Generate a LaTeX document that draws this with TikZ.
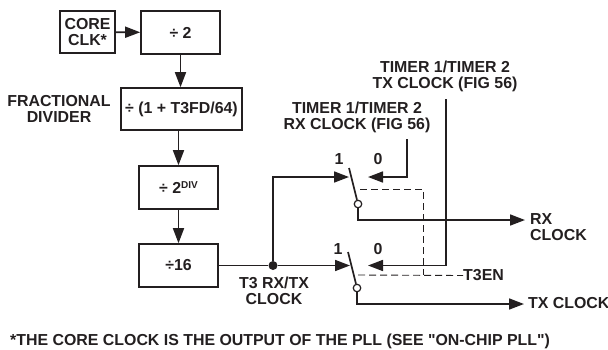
\documentclass[tikz,border=0pt]{standalone}
\usepackage{fontspec}
\newfontfamily\diagfont{Liberation Sans}
\usetikzlibrary{arrows.meta}
\definecolor{inkdark}{RGB}{35,31,32}

\begin{document}
\begin{tikzpicture}[
    x=1pt,y=-1pt,
    box/.style={draw=inkdark,line width=1.6pt,inner sep=0pt,align=center},
    lbl/.style={inner sep=0pt,align=center,text=inkdark,font=\diagfont\fontsize{15.9}{16}\selectfont\bfseries},
    wire/.style={draw=inkdark,line width=1.7pt},
    sig/.style={wire,-{Triangle[length=15pt,width=11pt]}},
    ctl/.style={draw=inkdark,line width=0.9pt,dash pattern=on 7pt off 4pt},
    pivot/.style={circle,draw=inkdark,fill=white,line width=1.2pt,minimum size=7.5pt,inner sep=0pt},
]
\useasboundingbox (0,0) rectangle (608,349);
% divider chain
\node[box,lbl,minimum width=55pt,minimum height=42pt] (coreclk) at (87.5,32) {\raisebox{-2pt}{CORE}\\\raisebox{-2pt}{CLK*}};
\node[box,lbl,minimum width=79pt,minimum height=43pt] (divtwo) at (180.5,32.5) {÷ 2};
\node[box,lbl,minimum width=121pt,minimum height=42pt] (fracdiv) at (181.5,109) {÷ (1 + T3FD/64)};
\node[box,lbl,minimum width=79pt,minimum height=43pt] (divpow) at (178.5,187.5) {÷ 2\raisebox{5pt}{\fontsize{10}{10}\selectfont DIV}};
\node[box,lbl,minimum width=79pt,minimum height=43pt] (divsixteen) at (178.5,265.5) {÷16};
\node[lbl] (fraclabel) at (59,108.5) {FRACTIONAL\\DIVIDER};
\draw[sig] (coreclk) -- (divtwo);
\draw[sig] (divtwo.south) -- (divtwo.south |- fracdiv.north);
\draw[sig] (fracdiv.south -| divpow) -- (divpow.north);
\draw[sig] (divpow) -- (divsixteen);
% switches
\coordinate (rxtop) at (349,168);
\coordinate (rxone) at (349,177);
\coordinate (rxzero) at (368,177);
\coordinate (rxsrc) at (407,139);
\coordinate (rxdash) at (360,189);
\coordinate (txtop) at (348,252);
\coordinate (txone) at (350,265.5);
\coordinate (txzero) at (368,265.5);
\coordinate (txsrc) at (446,99);
\coordinate (txdash) at (358,275);
\coordinate (dashcorner) at (423,189);
\coordinate (rxtip) at (525,220);
\coordinate (txtip) at (524,304);
\node[pivot] (rxpivot) at (358,204) {};
\node[pivot] (txpivot) at (357,288) {};
\node[circle,fill=inkdark,minimum size=9pt,inner sep=0pt] (tap) at (273,265.5) {};
\node[lbl,anchor=west] (enlabel) at (463,275.5) {T3EN};
\node[lbl,anchor=north west,align=left] (rxout) at (530,213) {RX\\CLOCK};
\node[lbl,anchor=west] (txout) at (528,303.5) {TX CLOCK};
\node[lbl] (rxlabel) at (357,117) {TIMER 1/TIMER 2\\RX CLOCK (FIG 56)};
\node[lbl] (txlabel) at (445,76.5) {TIMER 1/TIMER 2\\TX CLOCK (FIG 56)};
\node[lbl] (taplabel) at (274,290.5) {T3 RX/TX\\CLOCK};
\node[lbl] (rxonelabel) at (339,159) {1};
\node[lbl] (rxzerolabel) at (378,159) {0};
\node[lbl] (txonelabel) at (338,249) {1};
\node[lbl] (txzerolabel) at (378,249) {0};
\node[lbl,anchor=west] (note) at (10,341.5) {*THE CORE CLOCK IS THE OUTPUT OF THE PLL (SEE "ON-CHIP PLL")};
\draw[ctl] (rxdash) -- (dashcorner) -- (dashcorner |- txdash);
\draw[ctl] (txdash) -- (enlabel.west);
\draw[wire] (rxtop) -- (rxpivot);
\draw[wire] (txtop) -- (txpivot);
\draw[wire] (divsixteen.east) -- (tap);
\draw[sig] (tap) -- (txone);
\draw[sig] (tap) |- (rxone);
\draw[sig] (rxsrc) |- (rxzero);
\draw[sig] (txsrc) |- (txzero);
\draw[sig] (rxpivot) |- (rxtip);
\draw[sig] (txpivot) |- (txtip);
\end{tikzpicture}
\end{document}
